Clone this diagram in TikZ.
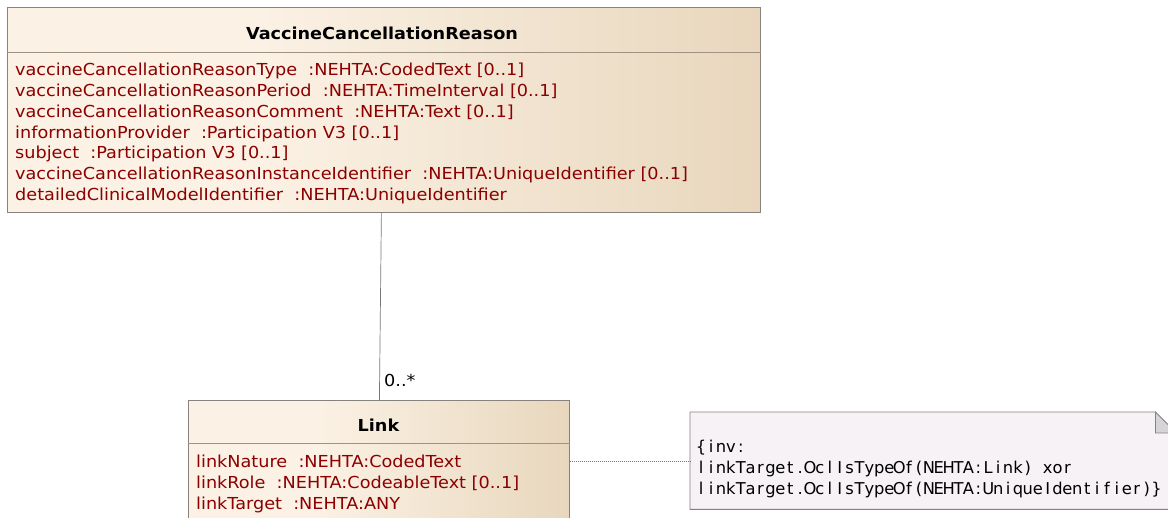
\documentclass[tikz,border=0pt]{standalone}
\usepackage{fontspec}
\setmainfont{DejaVu Sans}[FakeStretch=1.07]
\newfontfamily\notefont{DejaVu Sans}
\makeatletter
\newcommand\monotext[1]{\@tfor\mt@c:=#1\do{\makebox[9.9pt][c]{\mt@c}}}
\makeatother
\definecolor{boxA}{RGB}{251,241,228}
\definecolor{boxB}{RGB}{232,215,189}
\definecolor{attrcol}{RGB}{140,0,0}
\definecolor{edgecol}{RGB}{135,130,125}
\definecolor{sepcol}{RGB}{160,145,130}
\definecolor{notefill}{RGB}{246,242,246}
\definecolor{foldfill}{RGB}{215,212,215}
\definecolor{linecol}{RGB}{120,120,120}
\pgfdeclarehorizontalshading{umlgrad}{100bp}{color(0bp)=(boxA); color(25bp)=(boxA); color(42bp)=(boxA); color(75bp)=(boxB); color(100bp)=(boxB)}
\begin{document}
\begin{tikzpicture}[x=1pt,y=-1pt,
  umlbox/.style={draw=edgecol, line width=0.8pt, shading=umlgrad, rectangle, inner sep=0pt, anchor=north west},
  sepline/.style={draw=sepcol, line width=0.8pt},
  attr/.style={anchor=base west, text=attrcol, font=\fontsize{16.5}{19}\selectfont, inner sep=0pt},
  titletext/.style={anchor=base, font=\fontsize{16.5}{19}\selectfont\bfseries, inner sep=0pt},
  notetext/.style={anchor=base west, font=\fontsize{16.3}{19}\notefont, inner sep=0pt},
  assoc/.style={draw=linecol, line width=0.7pt},
  dotline/.style={draw=linecol, line width=0.6pt, dash pattern=on 1pt off 1pt},
  multlabel/.style={anchor=base west, font=\fontsize{16.5}{19}\selectfont, inner sep=0pt}
]
\useasboundingbox (0,0) rectangle (1168,518);
\fill[white] (0,0) rectangle (1168,518);

% VaccineCancellationReason class
\node[umlbox, minimum width=753pt, minimum height=205pt] (vcr) at (7,7) {};
\draw[sepline] ([yshift=-45pt]vcr.north west) -- ([yshift=-45pt]vcr.north east);
\node[titletext] (vcrtitle) at (382,39.5) {VaccineCancellationReason};
\node[attr] (a1) at (15,76) {vaccineCancellationReasonType\ \ :NEHTA:CodedText [0..1]};
\node[attr] (a2) at (15,96.7) {vaccineCancellationReasonPeriod\ \ :NEHTA:TimeInterval [0..1]};
\node[attr] (a3) at (15,117.4) {vaccineCancellationReasonComment\ \ :NEHTA:Text [0..1]};
\node[attr] (a4) at (15,138.1) {informationProvider\ \ :Participation V3 [0..1]};
\node[attr] (a5) at (15,158.8) {subject\ \ :Participation V3 [0..1]};
\node[attr] (a6) at (15,179.5) {vaccineCancellationReasonInstanceIdentifier\ \ :NEHTA:UniqueIdentifier [0..1]};
\node[attr] (a7) at (15,200.2) {detailedClinicalModelIdentifier\ \ :NEHTA:UniqueIdentifier};

% Link class
\node[umlbox, minimum width=381pt, minimum height=140pt] (link) at (188,400) {};
\draw[sepline] ([yshift=-43pt]link.north west) -- ([yshift=-43pt]link.north east);
\node[titletext] (linktitle) at (378.5,431.5) {Link};
\node[attr] (l1) at (196,467.3) {linkNature\ \ :NEHTA:CodedText};
\node[attr] (l2) at (196,488.3) {linkRole\ \ :NEHTA:CodeableText [0..1]};
\node[attr] (l3) at (196,509.3) {linkTarget\ \ :NEHTA:ANY};

% Note
\node[rectangle, inner sep=0pt, anchor=north west, minimum width=486pt, minimum height=97pt] (note) at (690,412) {};
\filldraw[fill=notefill, draw=edgecol, line width=0.8pt]
  (note.north west) -- ([xshift=-21pt]note.north east) -- ([yshift=-21pt]note.north east)
  -- (note.south east) -- (note.south west) -- cycle;
\filldraw[fill=foldfill, draw=edgecol, line width=0.8pt]
  ([xshift=-21pt]note.north east) -- ([xshift=-21pt,yshift=-21pt]note.north east) -- ([yshift=-21pt]note.north east) -- cycle;
\node[notetext] (n1) at (696,453) {\monotext{\{inv:}};
\node[notetext] (n2) at (696,474) {\monotext{linkTarget.OclIsTypeOf(NEHTA:Link){\ }xor}};
\node[notetext] (n3) at (696,495) {\monotext{linkTarget.OclIsTypeOf(NEHTA:UniqueIdentifier)\}}};

% connectors
\draw[assoc] ([xshift=-2.5pt]vcr.south) -- ([xshift=0.5pt]link.north);
\node[multlabel] (mult) at (384,387) {0..*};
\draw[dotline] ([yshift=-61pt]link.north east) -- ([yshift=-49pt]note.north west);
\end{tikzpicture}
\end{document}
